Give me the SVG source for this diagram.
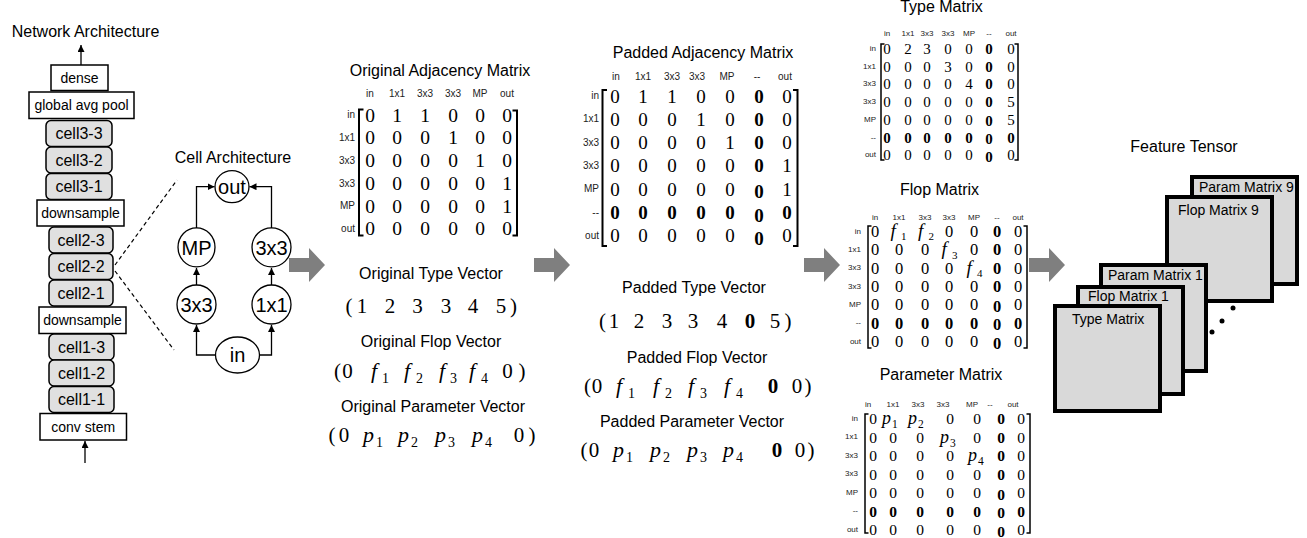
<svg xmlns="http://www.w3.org/2000/svg" width="1307" height="538" viewBox="0 0 1307 538">
<style>
text{font-family:"Liberation Sans",Arial,sans-serif;fill:#000}
.ttl{font-size:16px;text-anchor:middle}
.lbl{font-size:14px;text-anchor:middle}
.cl{font-size:16px;text-anchor:middle}
.nd{font-size:20px;text-anchor:middle}
.h10{font-size:10px;text-anchor:middle;fill:#222}
.h8{font-size:8px;text-anchor:middle;fill:#222}
.e{text-anchor:end}
.s{text-anchor:start}
.m{font-family:"Liberation Serif","Times New Roman",serif;text-anchor:middle}
.it{font-family:"Liberation Serif","Times New Roman",serif;font-style:italic;text-anchor:start}
.sb{font-family:"Liberation Serif","Times New Roman",serif;text-anchor:start}
.b{font-weight:bold}
.box{fill:#fff;stroke:#000;stroke-width:1.5}
.cell{fill:#e0e0e0;stroke:#000;stroke-width:1.5}
.circ{fill:#fff;stroke:#000;stroke-width:1.3}
.br{fill:none;stroke:#000;stroke-width:2}
.br2{fill:none;stroke:#000;stroke-width:1.5}
.wire{fill:none;stroke:#000;stroke-width:1.3}
.dash{fill:none;stroke:#000;stroke-width:1.2;stroke-dasharray:4 3}
.garrow{fill:#7f7f7f}
.tens{fill:#d9d9d9;stroke:#000;stroke-width:4}
</style>
<defs>
<marker id="ah" viewBox="0 0 10 10" refX="10" refY="5" markerWidth="7" markerHeight="7" markerUnits="userSpaceOnUse" orient="auto"><path d="M0,0 L10,5 L0,10 z" fill="#000"/></marker>
</defs>

<!-- Network architecture -->
<text class="ttl" x="85.5" y="37">Network Architecture</text>
<g id="n-dense"><rect class="box" x="51" y="65" width="57" height="25.5"/><text class="lbl" x="79.5" y="82.5">dense</text></g>
<g id="n-gap"><rect class="box" x="29" y="92" width="105" height="26.5"/><text class="lbl" x="81.5" y="110">global avg pool</text></g>
<g id="n-c33"><rect class="cell" x="46" y="120.5" width="66" height="26" rx="5"/><text class="cl" x="79" y="139">cell3-3</text></g>
<g id="n-c32"><rect class="cell" x="46" y="147" width="66" height="26" rx="5"/><text class="cl" x="79" y="165.5">cell3-2</text></g>
<g id="n-c31"><rect class="cell" x="46" y="173.5" width="66" height="26" rx="5"/><text class="cl" x="79" y="192">cell3-1</text></g>
<g id="n-ds2"><rect class="box" x="37" y="200" width="87" height="26"/><text class="lbl" x="80.5" y="218">downsample</text></g>
<g id="n-c23"><rect class="cell" x="49" y="227" width="64" height="26" rx="5"/><text class="cl" x="81" y="245.5">cell2-3</text></g>
<g id="n-c22"><rect class="cell" x="49" y="253.5" width="64" height="26" rx="5"/><text class="cl" x="81" y="272">cell2-2</text></g>
<g id="n-c21"><rect class="cell" x="49" y="280" width="64" height="26" rx="5"/><text class="cl" x="81" y="298.5">cell2-1</text></g>
<g id="n-ds1"><rect class="box" x="39" y="307" width="87" height="26.5"/><text class="lbl" x="82.5" y="325">downsample</text></g>
<g id="n-c13"><rect class="cell" x="49" y="334" width="65" height="26" rx="5"/><text class="cl" x="81.5" y="352.5">cell1-3</text></g>
<g id="n-c12"><rect class="cell" x="49" y="360" width="65" height="26" rx="5"/><text class="cl" x="81.5" y="378.5">cell1-2</text></g>
<g id="n-c11"><rect class="cell" x="49" y="386.5" width="65" height="26" rx="5"/><text class="cl" x="81.5" y="405">cell1-1</text></g>
<g id="n-stem"><rect class="box" x="40" y="413.5" width="86.5" height="26.5"/><text class="lbl" x="83.2" y="431.5">conv stem</text></g>

<!-- Cell architecture -->
<text class="ttl" x="233" y="163">Cell Architecture</text>
<g id="c-out"><ellipse class="circ" cx="232" cy="186.7" rx="17" ry="16"/><text class="nd" x="232" y="194">out</text></g>
<g id="c-mp"><ellipse class="circ" cx="196.5" cy="247.3" rx="18.5" ry="19.5"/><text class="nd" x="196.5" y="254.5">MP</text></g>
<g id="c-33r"><circle class="circ" cx="271.5" cy="247.3" r="19.5"/><text class="nd" x="271.5" y="254.5">3x3</text></g>
<g id="c-33l"><circle class="circ" cx="196.5" cy="304.5" r="19.5"/><text class="nd" x="196.5" y="311.7">3x3</text></g>
<g id="c-11"><circle class="circ" cx="271.5" cy="304.5" r="19.5"/><text class="nd" x="271.5" y="311.7">1x1</text></g>
<g id="c-in"><ellipse class="circ" cx="237.5" cy="355" rx="22" ry="18"/><text class="nd" x="237.5" y="362">in</text></g>

<!-- Original adjacency matrix -->
<g id="orig-adj">
<text class="ttl" x="440" y="76">Original Adjacency Matrix</text>
<text class="h10" y="96.5"><tspan x="370">in</tspan><tspan x="397">1x1</tspan><tspan x="425">3x3</tspan><tspan x="453">3x3</tspan><tspan x="480">MP</tspan><tspan x="507">out</tspan></text>
<text class="h10 e" x="355" y="118">in</text>
<text class="h10 e" x="355" y="141">1x1</text>
<text class="h10 e" x="355" y="163.5">3x3</text>
<text class="h10 e" x="355" y="186.5">3x3</text>
<text class="h10 e" x="355" y="209">MP</text>
<text class="h10 e" x="355" y="232">out</text>
<g font-size="19.5">
<text class="m" x="370 397 425 453 480 507" y="121.5">011000</text>
<text class="m" x="370 397 425 453 480 507" y="144.3">000100</text>
<text class="m" x="370 397 425 453 480 507" y="167">000010</text>
<text class="m" x="370 397 425 453 480 507" y="189.8">000001</text>
<text class="m" x="370 397 425 453 480 507" y="212.5">000001</text>
<text class="m" x="370 397 425 453 480 507" y="235.3">000000</text>
</g>
<path class="br" d="M363.5,109.5 H359 V235.5 H363.5"/>
<path class="br" d="M512.5,110.5 H517 V235.5 H512.5"/>
</g>

<!-- Original vectors -->
<g id="orig-type">
<text class="ttl" x="431" y="279">Original Type Vector</text>
<text class="m" font-size="21" x="349 362 390 417.5 446 473 501 513.5" y="313">(123345)</text>
</g>
<g id="orig-flop">
<text class="ttl" x="431" y="347">Original Flop Vector</text>
<text class="m" font-size="21" x="337.5 347.5" y="378">(0</text>
<text class="it" font-size="22" x="371" y="378">f</text><text class="sb" font-size="14" x="382" y="383">1</text>
<text class="it" font-size="22" x="404" y="378">f</text><text class="sb" font-size="14" x="416" y="383">2</text>
<text class="it" font-size="22" x="439" y="378">f</text><text class="sb" font-size="14" x="450" y="383">3</text>
<text class="it" font-size="22" x="469" y="378">f</text><text class="sb" font-size="14" x="481" y="383">4</text>
<text class="m" font-size="21" x="507.5 522" y="378">0)</text>
</g>
<g id="orig-param">
<text class="ttl" x="433" y="412">Original Parameter Vector</text>
<text class="m" font-size="21" x="332 344" y="442">(0</text>
<text class="it" font-size="22" x="363" y="442">p</text><text class="sb" font-size="14" x="376" y="447">1</text>
<text class="it" font-size="22" x="398" y="442">p</text><text class="sb" font-size="14" x="411" y="447">2</text>
<text class="it" font-size="22" x="435" y="442">p</text><text class="sb" font-size="14" x="448" y="447">3</text>
<text class="it" font-size="22" x="472" y="442">p</text><text class="sb" font-size="14" x="485" y="447">4</text>
<text class="m" font-size="21" x="519 532" y="442">0)</text>
</g>

<!-- Padded adjacency matrix -->
<g id="pad-adj">
<text class="ttl" x="703" y="58">Padded Adjacency Matrix</text>
<text class="h10" y="80"><tspan x="616">in</tspan><tspan x="643">1x1</tspan><tspan x="672">3x3</tspan><tspan x="697">3x3</tspan><tspan x="727">MP</tspan><tspan x="757">--</tspan><tspan x="785">out</tspan></text>
<text class="h10 e" x="599" y="99">in</text>
<text class="h10 e" x="599" y="122.3">1x1</text>
<text class="h10 e" x="599" y="145.6">3x3</text>
<text class="h10 e" x="599" y="168.9">3x3</text>
<text class="h10 e" x="599" y="192.2">MP</text>
<text class="h10 e" x="599" y="215.5">--</text>
<text class="h10 e" x="599" y="238.8">out</text>
<g font-size="19">
<text class="m" y="102.5"><tspan x="615 643 672 701 730">01100</tspan><tspan class="b" x="759">0</tspan><tspan x="787">0</tspan></text>
<text class="m" y="125.8"><tspan x="615 643 672 701 730">00010</tspan><tspan class="b" x="759">0</tspan><tspan x="787">0</tspan></text>
<text class="m" y="149.1"><tspan x="615 643 672 701 730">00001</tspan><tspan class="b" x="759">0</tspan><tspan x="787">0</tspan></text>
<text class="m" y="172.4"><tspan x="615 643 672 701 730">00000</tspan><tspan class="b" x="759">0</tspan><tspan x="787">1</tspan></text>
<text class="m" y="195.7"><tspan x="615 643 672 701 730">00000</tspan><tspan class="b" x="759" dy="2.5">0</tspan><tspan x="787" dy="-2.5">1</tspan></text>
<text class="m b" y="219"><tspan x="615 643 672 701 730">00000</tspan><tspan x="759" dy="2.5">0</tspan><tspan x="787" dy="-2.5">0</tspan></text>
<text class="m" y="242.3"><tspan x="615 643 672 701 730">00000</tspan><tspan class="b" x="759" dy="2.5">0</tspan><tspan x="787" dy="-2.5">0</tspan></text>
</g>
<path class="br" d="M607,90 H602.5 V246 H607"/>
<path class="br" d="M793,90 H797.5 V246 H793"/>
</g>

<!-- Padded vectors -->
<g id="pad-type">
<text class="ttl" x="694" y="293">Padded Type Vector</text>
<text class="m" font-size="21" y="328"><tspan x="602.5 614 639 667 693 722">(12334</tspan><tspan class="b" x="750">0</tspan><tspan x="775 788">5)</tspan></text>
</g>
<g id="pad-flop">
<text class="ttl" x="697" y="363">Padded Flop Vector</text>
<text class="m" font-size="21" x="587.5 597" y="393">(0</text>
<text class="it" font-size="22" x="616" y="393">f</text><text class="sb" font-size="14" x="628" y="398">1</text>
<text class="it" font-size="22" x="653" y="393">f</text><text class="sb" font-size="14" x="665" y="398">2</text>
<text class="it" font-size="22" x="688" y="393">f</text><text class="sb" font-size="14" x="700" y="398">3</text>
<text class="it" font-size="22" x="724" y="393">f</text><text class="sb" font-size="14" x="736" y="398">4</text>
<text class="m" font-size="21" y="393"><tspan class="b" x="773">0</tspan><tspan x="797 808">0)</tspan></text>
</g>
<g id="pad-param">
<text class="ttl" x="692" y="427">Padded Parameter Vector</text>
<text class="m" font-size="21" x="584 594" y="457">(0</text>
<text class="it" font-size="22" x="613" y="457">p</text><text class="sb" font-size="14" x="626" y="462">1</text>
<text class="it" font-size="22" x="650" y="457">p</text><text class="sb" font-size="14" x="663" y="462">2</text>
<text class="it" font-size="22" x="687" y="457">p</text><text class="sb" font-size="14" x="700" y="462">3</text>
<text class="it" font-size="22" x="723" y="457">p</text><text class="sb" font-size="14" x="736" y="462">4</text>
<text class="m" font-size="21" y="457"><tspan class="b" x="777">0</tspan><tspan x="800 811">0)</tspan></text>
</g>

<!-- Type matrix -->
<g id="type-matrix">
<text class="ttl" x="941.5" y="12">Type Matrix</text>
<text class="h8" y="36"><tspan x="887">in</tspan><tspan x="908">1x1</tspan><tspan x="927">3x3</tspan><tspan x="948">3x3</tspan><tspan x="969">MP</tspan><tspan x="989">--</tspan><tspan x="1011">out</tspan></text>
<text class="h8 e" x="876" y="51">in</text>
<text class="h8 e" x="876" y="68.7">1x1</text>
<text class="h8 e" x="876" y="86.4">3x3</text>
<text class="h8 e" x="876" y="104.1">3x3</text>
<text class="h8 e" x="876" y="121.8">MP</text>
<text class="h8 e" x="876" y="139.5">--</text>
<text class="h8 e" x="876" y="157.2">out</text>
<g font-size="15">
<text class="m" y="54"><tspan x="887 908 927 948 969">02300</tspan><tspan class="b" x="989">0</tspan><tspan x="1011">0</tspan></text>
<text class="m" y="71.7"><tspan x="887 908 927 948 969">00030</tspan><tspan class="b" x="989">0</tspan><tspan x="1011">0</tspan></text>
<text class="m" y="89.4"><tspan x="887 908 927 948 969">00004</tspan><tspan class="b" x="989">0</tspan><tspan x="1011">0</tspan></text>
<text class="m" y="107.1"><tspan x="887 908 927 948 969">00000</tspan><tspan class="b" x="989">0</tspan><tspan x="1011">5</tspan></text>
<text class="m" y="124.8"><tspan x="887 908 927 948 969">00000</tspan><tspan class="b" x="989" dy="1.5">0</tspan><tspan x="1011" dy="-1.5">5</tspan></text>
<text class="m b" y="142.5"><tspan x="887 908 927 948 969">00000</tspan><tspan x="989" dy="1.5">0</tspan><tspan x="1011" dy="-1.5">0</tspan></text>
<text class="m" y="160"><tspan x="887 908 927 948 969">00000</tspan><tspan class="b" x="989" dy="1.5">0</tspan><tspan x="1011" dy="-1.5">0</tspan></text>
</g>
<path class="br2" d="M884.5,44 H881 V160 H884.5"/>
<path class="br2" d="M1014.5,44 H1018 V160 H1014.5"/>
</g>

<!-- Flop matrix -->
<g id="flop-matrix">
<text class="ttl" x="939.5" y="195">Flop Matrix</text>
<text class="h8" y="220"><tspan x="875">in</tspan><tspan x="899">1x1</tspan><tspan x="925">3x3</tspan><tspan x="949">3x3</tspan><tspan x="974">MP</tspan><tspan x="997">--</tspan><tspan x="1018">out</tspan></text>
<text class="h8 e" x="861" y="233.5">in</text>
<text class="h8 e" x="861" y="251.8">1x1</text>
<text class="h8 e" x="861" y="270.1">3x3</text>
<text class="h8 e" x="861" y="288.5">3x3</text>
<text class="h8 e" x="861" y="306.8">MP</text>
<text class="h8 e" x="861" y="325.1">--</text>
<text class="h8 e" x="861" y="343.5">out</text>
<g font-size="16.5">
<text class="m" y="237"><tspan x="875">0</tspan><tspan x="949 974">00</tspan><tspan class="b" x="997">0</tspan><tspan x="1018">0</tspan></text>
<text class="m" y="255.3"><tspan x="875 899 925">000</tspan><tspan x="974">0</tspan><tspan class="b" x="997">0</tspan><tspan x="1018">0</tspan></text>
<text class="m" y="273.6"><tspan x="875 899 925 949">0000</tspan><tspan class="b" x="997">0</tspan><tspan x="1018">0</tspan></text>
<text class="m" y="292"><tspan x="875 899 925 949 974">00000</tspan><tspan class="b" x="997">0</tspan><tspan x="1018">0</tspan></text>
<text class="m" y="310.3"><tspan x="875 899 925 949 974">00000</tspan><tspan class="b" x="997" dy="1.5">0</tspan><tspan x="1018" dy="-1.5">0</tspan></text>
<text class="m b" y="328.6"><tspan x="875 899 925 949 974">00000</tspan><tspan x="997" dy="1.5">0</tspan><tspan x="1018" dy="-1.5">0</tspan></text>
<text class="m" y="347"><tspan x="875 899 925 949 974">00000</tspan><tspan class="b" x="997" dy="1.5">0</tspan><tspan x="1018" dy="-1.5">0</tspan></text>
</g>
<text class="it" font-size="19" x="890.5" y="237">f</text><text class="sb" font-size="11" x="901" y="239.5">1</text>
<text class="it" font-size="19" x="918" y="237">f</text><text class="sb" font-size="11" x="928.5" y="239.5">2</text>
<text class="it" font-size="19" x="941.5" y="255.3">f</text><text class="sb" font-size="11" x="952" y="258.5">3</text>
<text class="it" font-size="19" x="966.5" y="273.6">f</text><text class="sb" font-size="11" x="977" y="276.8">4</text>
<path class="br2" d="M871.5,226 H868 V348 H871.5"/>
<path class="br2" d="M1023.5,226 H1027 V348 H1023.5"/>
</g>

<!-- Parameter matrix -->
<g id="param-matrix">
<text class="ttl" x="941" y="380">Parameter Matrix</text>
<text class="h8" y="407"><tspan x="868">in</tspan><tspan x="893">1x1</tspan><tspan x="918">3x3</tspan><tspan x="943">3x3</tspan><tspan x="972">MP</tspan><tspan x="990">--</tspan><tspan x="1013">out</tspan></text>
<text class="h8 e" x="858" y="420.5">in</text>
<text class="h8 e" x="858" y="439">1x1</text>
<text class="h8 e" x="858" y="457.5">3x3</text>
<text class="h8 e" x="858" y="476">3x3</text>
<text class="h8 e" x="858" y="494.5">MP</text>
<text class="h8 e" x="858" y="513">--</text>
<text class="h8 e" x="858" y="531.5">out</text>
<g font-size="15.5">
<text class="m" y="424"><tspan x="873">0</tspan><tspan x="950 977">00</tspan><tspan class="b" x="1001">0</tspan><tspan x="1021">0</tspan></text>
<text class="m" y="442.5"><tspan x="873 893 920">000</tspan><tspan x="977">0</tspan><tspan class="b" x="1001">0</tspan><tspan x="1021">0</tspan></text>
<text class="m" y="461"><tspan x="873 893 920 950">0000</tspan><tspan class="b" x="1001">0</tspan><tspan x="1021">0</tspan></text>
<text class="m" y="479.5"><tspan x="873 893 920 950 977">00000</tspan><tspan class="b" x="1001">0</tspan><tspan x="1021">0</tspan></text>
<text class="m" y="498"><tspan x="873 893 920 950 977">00000</tspan><tspan class="b" x="1001" dy="1.5">0</tspan><tspan x="1021" dy="-1.5">0</tspan></text>
<text class="m b" y="516.5"><tspan x="873 893 920 950 977">00000</tspan><tspan x="1001" dy="1.5">0</tspan><tspan x="1021" dy="-1.5">0</tspan></text>
<text class="m" y="535"><tspan x="873 893 920 950 977">00000</tspan><tspan class="b" x="1001" dy="1.5">0</tspan><tspan x="1021" dy="-1.5">0</tspan></text>
</g>
<text class="it" font-size="18" x="882" y="424">p</text><text class="sb" font-size="11.5" x="892" y="428">1</text>
<text class="it" font-size="18" x="908" y="424">p</text><text class="sb" font-size="11.5" x="918" y="428">2</text>
<text class="it" font-size="18" x="940" y="442.5">p</text><text class="sb" font-size="11.5" x="950" y="446.5">3</text>
<text class="it" font-size="18" x="968" y="461">p</text><text class="sb" font-size="11.5" x="978" y="465">4</text>
<path class="br2" d="M868.5,414 H865 V533 H868.5"/>
<path class="br2" d="M1026.5,414 H1030 V533 H1026.5"/>
</g>

<!-- Feature tensor -->
<text class="ttl" x="1184" y="152" font-size="14.5">Feature Tensor</text>
<g id="t-pm9"><rect class="tens" x="1192" y="177" width="105" height="107"/><text class="lbl s" x="1199" y="192">Param Matrix 9</text></g>
<g id="t-fm9"><rect class="tens" x="1167" y="197" width="105" height="104"/><text class="lbl s" x="1178" y="215">Flop Matrix 9</text></g>
<g id="t-dots"><circle cx="1212" cy="332" r="2.5"/><circle cx="1222" cy="321" r="2.5"/><circle cx="1233" cy="308" r="2.5"/></g>
<g id="t-pm1"><rect class="tens" x="1101" y="265" width="105" height="106"/><text class="lbl s" x="1108" y="280">Param Matrix 1</text></g>
<g id="t-fm1"><rect class="tens" x="1078" y="287" width="105" height="107"/><text class="lbl s" x="1088" y="301">Flop Matrix 1</text></g>
<g id="t-tm"><rect class="tens" x="1055" y="306" width="105" height="105"/><text class="lbl s" x="1072" y="324">Type Matrix</text></g>

<!-- Connectors -->
<g id="connectors">
<line class="wire" x1="81" y1="65" x2="81" y2="45" marker-end="url(#ah)"/>
<line class="wire" x1="85" y1="463" x2="85" y2="441" marker-end="url(#ah)"/>
<line class="dash" x1="115" y1="265" x2="177" y2="180"/>
<line class="dash" x1="115" y1="271" x2="174" y2="350"/>
<path class="wire" d="M215.5,355 H196.5 V325" marker-end="url(#ah)"/>
<path class="wire" d="M259.5,355 H271.5 V325" marker-end="url(#ah)"/>
<line class="wire" x1="196.5" y1="285" x2="196.5" y2="268" marker-end="url(#ah)"/>
<line class="wire" x1="271.5" y1="285" x2="271.5" y2="268" marker-end="url(#ah)"/>
<path class="wire" d="M196.5,228 V186.7 H214.5" marker-end="url(#ah)"/>
<path class="wire" d="M271.5,228 V186.7 H249.5" marker-end="url(#ah)"/>
<path class="garrow" d="M289,258 H309 V248 L325,265 L309,282 V272 H289 Z"/>
<path class="garrow" d="M534,258 H554 V248 L570,265 L554,282 V272 H534 Z"/>
<path class="garrow" d="M804,258 H824 V248 L840,265 L824,282 V272 H804 Z"/>
<path class="garrow" d="M1029,258 H1049 V248 L1065,265 L1049,282 V272 H1029 Z"/>
</g>
</svg>
